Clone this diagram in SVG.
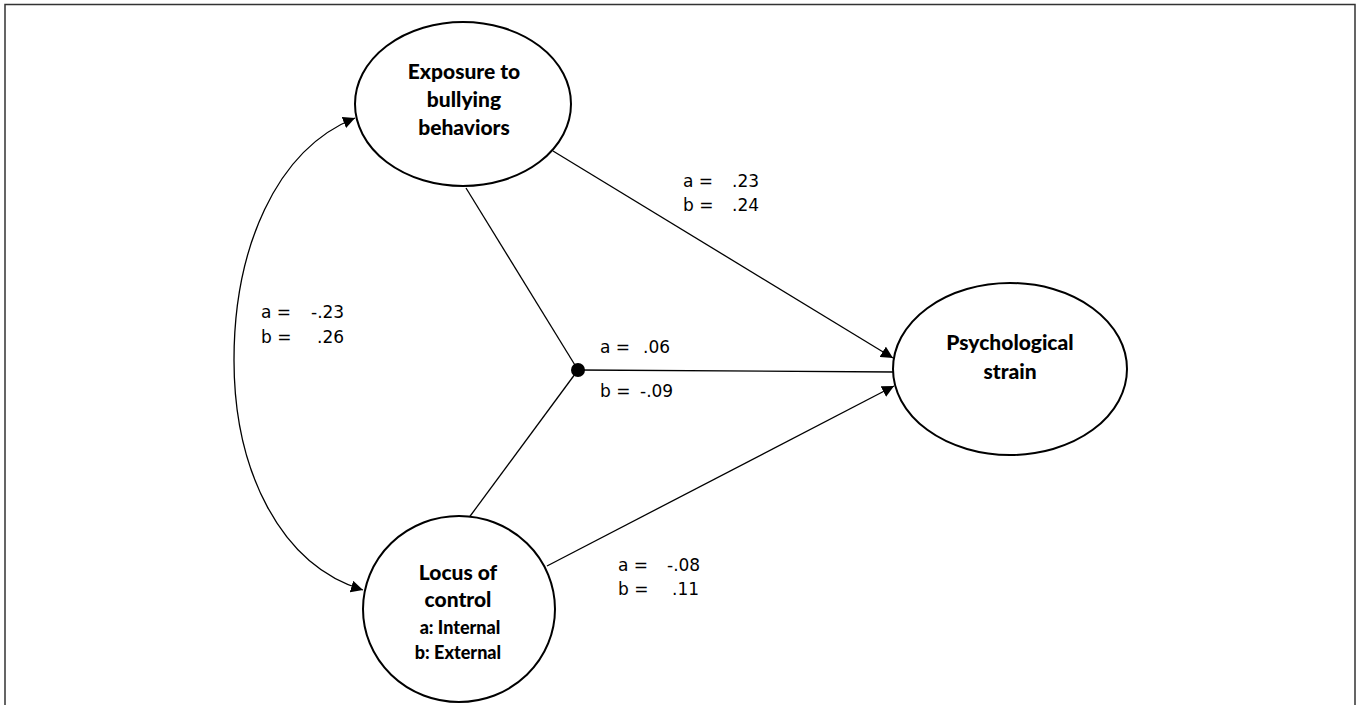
<svg xmlns="http://www.w3.org/2000/svg" width="1358" height="705" viewBox="0 0 1358 705">
<defs>
<marker id="ah" viewBox="0 0 10 10" refX="10" refY="5" markerWidth="12" markerHeight="12" markerUnits="userSpaceOnUse" orient="auto-start-reverse">
<path d="M0,0 L10,5 L0,10 z" fill="#000"/>
</marker>
<style>
.node{fill:#fff;stroke:#000;stroke-width:2}
.nt{font-family:Lato,"Open Sans",sans-serif;font-weight:900;font-size:21px;fill:#000;text-anchor:middle}
.ns{font-family:Lato,"Open Sans",sans-serif;font-weight:900;font-size:18px;fill:#000;text-anchor:middle}
.lb{font-family:"DejaVu Sans",sans-serif;font-size:17px;fill:#000}
.ed{fill:none;stroke:#000;stroke-width:1.3}
</style>
</defs>
<rect width="1358" height="705" fill="#fff"/>
<path d="M5,710 V4.5 H1355 V710" fill="none" stroke="#333" stroke-width="1.5"/>
<g id="connectors">
<path class="ed" d="M553,151 L893,358" marker-end="url(#ah)"/>
<path class="ed" d="M547,566 L894,386" marker-end="url(#ah)"/>
<path class="ed" d="M578,370 L894,372"/>
<path class="ed" d="M466,188 L578,370"/>
<path class="ed" d="M468,519 L578,370"/>
<circle cx="578" cy="370" r="7" fill="#000"/>
<path class="ed" d="M363,590 C280,565 234,470 234,360 C234,250 275,150 355,118" marker-start="url(#ah)" marker-end="url(#ah)"/>
</g>
<g id="exposure">
<ellipse class="node" cx="463" cy="104" rx="108" ry="82"/>
<text class="nt" x="464" y="79">Exposure to</text>
<text class="nt" x="464" y="107">bullying</text>
<text class="nt" x="464" y="135">behaviors</text>
</g>
<g id="locus">
<ellipse class="node" cx="459" cy="609" rx="96" ry="93"/>
<text class="nt" x="458" y="580">Locus of</text>
<text class="nt" x="458" y="607">control</text>
<text class="ns" x="460" y="634">a: Internal</text>
<text class="ns" x="458" y="659">b: External</text>
</g>
<g id="psych">
<ellipse class="node" cx="1010" cy="369" rx="117" ry="86"/>
<text class="nt" x="1010" y="350">Psychological</text>
<text class="nt" x="1010" y="379">strain</text>
</g>
<g id="labels">
<text class="lb" x="261" y="318">a =</text><text class="lb" x="311" y="318">-.23</text>
<text class="lb" x="261" y="343">b =</text><text class="lb" x="317" y="343">.26</text>
<text class="lb" x="683" y="187">a =</text><text class="lb" x="732" y="187">.23</text>
<text class="lb" x="683" y="211">b =</text><text class="lb" x="732" y="211">.24</text>
<text class="lb" x="600" y="353">a =</text><text class="lb" x="643" y="353">.06</text>
<text class="lb" x="600" y="397">b =</text><text class="lb" x="640" y="397">-.09</text>
<text class="lb" x="618" y="571">a =</text><text class="lb" x="667" y="571">-.08</text>
<text class="lb" x="618" y="595">b =</text><text class="lb" x="672" y="595">.11</text>
</g>
</svg>
